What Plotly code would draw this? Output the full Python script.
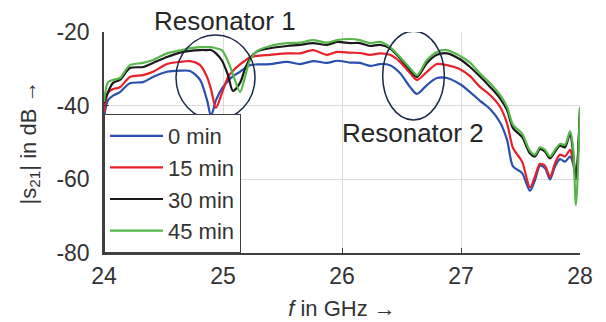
import plotly.graph_objects as go

freq_ghz = [24.000, 24.034, 24.076, 24.134, 24.218, 24.328, 24.412, 24.529, 24.639, 24.723,
            24.807, 24.866, 24.899, 24.941, 24.992, 25.042, 25.084, 25.143, 25.185, 25.227,
            25.286, 25.395, 25.538, 25.647, 25.756, 25.874, 25.958, 26.067, 26.151, 26.235,
            26.319, 26.403, 26.487, 26.571, 26.630, 26.714, 26.798, 26.882, 26.992, 27.076,
            27.160, 27.244, 27.328, 27.387, 27.437, 27.513, 27.580, 27.622, 27.664, 27.706,
            27.748, 27.790, 27.832, 27.874, 27.916, 27.941, 27.966, 28.000]

s21_0min = [-43.0, -38.5, -37.3, -36.3, -33.9, -33.6, -32.2, -30.8, -30.5, -30.6,
            -33.0, -38.5, -42.8, -38.5, -35.3, -33.3, -32.0, -30.8, -29.8, -29.0,
            -28.8, -28.7, -28.1, -28.7, -27.9, -28.4, -27.8, -28.3, -28.4, -29.2,
            -28.7, -29.0, -31.1, -34.9, -36.8, -34.4, -32.5, -32.5, -34.2, -36.3,
            -38.7, -40.9, -44.5, -49.3, -56.5, -58.3, -63.1, -60.2, -56.3, -57.0,
            -60.0, -56.5, -54.5, -55.2, -53.8, -55.6, -60.0, -41.0]

s21_15min = [-41.7, -36.5, -35.5, -35.0, -32.2, -31.7, -30.8, -28.7, -28.1, -27.9,
             -29.0, -32.2, -35.5, -40.6, -36.5, -32.2, -30.5, -28.8, -27.8, -26.8,
             -26.5, -26.2, -25.8, -25.8, -24.9, -26.2, -25.4, -25.6, -25.7, -26.2,
             -25.8, -26.2, -28.1, -31.1, -33.0, -30.8, -28.7, -29.0, -30.1, -32.0,
             -34.9, -37.1, -40.3, -44.8, -51.5, -55.2, -62.2, -59.2, -55.8, -56.3,
             -59.4, -55.6, -53.3, -53.8, -52.0, -54.7, -58.0, -41.0]

s21_30min = [-39.3, -36.3, -33.8, -33.0, -29.8, -29.5, -28.4, -26.8, -25.6, -25.1,
             -24.9, -24.9, -24.9, -25.8, -27.8, -31.7, -36.0, -33.8, -30.0, -27.2,
             -25.3, -24.4, -23.8, -23.5, -23.0, -23.5, -22.7, -23.0, -23.0, -23.8,
             -23.5, -24.4, -27.1, -30.3, -32.2, -28.4, -26.2, -25.8, -27.4, -29.5,
             -32.1, -34.9, -38.0, -41.2, -46.1, -48.5, -53.0, -53.8, -51.8, -52.5,
             -54.3, -52.5, -50.9, -51.3, -47.6, -52.5, -60.0, -42.0]

s21_45min = [-39.0, -33.6, -33.0, -32.5, -29.0, -28.4, -27.6, -25.8, -25.0, -24.4,
             -24.1, -24.1, -24.1, -24.4, -25.0, -28.0, -31.5, -36.3, -32.2, -27.6,
             -25.2, -23.8, -23.0, -22.9, -22.2, -22.9, -22.2, -21.9, -22.2, -23.0,
             -22.7, -24.1, -26.8, -29.8, -31.7, -27.6, -25.4, -24.9, -26.5, -28.3,
             -31.3, -33.9, -37.1, -40.3, -45.2, -47.6, -52.3, -53.3, -51.3, -52.0,
             -53.8, -52.0, -50.4, -50.6, -47.0, -51.1, -67.0, -40.3]

series_names = ["0 min", "15 min", "30 min", "45 min"]
series_values = [s21_0min, s21_15min, s21_30min, s21_45min]
series_colors = ["#2a50ad", "#e8202a", "#1a1a1a", "#55b848"]

x_ticks = [24, 25, 26, 27, 28]
x_tick_labels = ["24", "25", "26", "27", "28"]
y_ticks = [-80, -60, -40, -20]
y_tick_labels = ["-80", "-60", "-40", "-20"]

FONT = "Liberation Sans, Arial, sans-serif"
TXT = "#333333"

fig = go.Figure()
for name, vals, col in zip(series_names, series_values, series_colors):
    fig.add_trace(go.Scatter(
        x=freq_ghz, y=vals, name=name, mode="lines",
        line=dict(color=col, width=2.2, shape="spline", smoothing=0.8),
    ))

# resonator ellipses
ell_color = "#1b2a47"
fig.add_shape(type="circle", xref="x", yref="y", x0=24.605, x1=25.269, y0=-43.9, y1=-20.8,
              line=dict(color=ell_color, width=1.5), layer="above")
fig.add_shape(type="circle", xref="x", yref="y", x0=26.342, x1=26.860, y0=-43.9, y1=-19.8,
              line=dict(color=ell_color, width=1.5), layer="above")

fig.add_annotation(text="Resonator 1", x=25.017, y=1.05, xref="x", yref="paper",
                   xanchor="center", yanchor="middle",
                   showarrow=False, font=dict(family=FONT, size=26, color="#262626"))
fig.add_annotation(text="Resonator 2", x=26.6, y=-47.5, xref="x", yref="y",
                   xanchor="center", yanchor="middle",
                   showarrow=False, font=dict(family=FONT, size=26, color="#262626"))

axis_common = dict(
    showline=True, linecolor="#404040", linewidth=1.5,
    ticks="inside", ticklen=5, tickwidth=1.2, tickcolor="#404040",
    showgrid=True, gridcolor="#dcdcdc", gridwidth=1,
    zeroline=False, automargin=False,
    tickfont=dict(family=FONT, size=23, color=TXT),
)

fig.update_xaxes(range=[24, 28], tickvals=x_ticks, ticktext=x_tick_labels,
                 title=dict(text="<i>f</i> in GHz \u2192", font=dict(family=FONT, size=22, color=TXT), standoff=12),
                 ticklabelstandoff=2,
                 **axis_common)
fig.update_yaxes(range=[-80, -20], tickvals=y_ticks, ticktext=y_tick_labels,
                 title=dict(text="|s<sub>21</sub>| in dB \u2192", font=dict(family=FONT, size=22, color=TXT), standoff=14),
                 ticklabelstandoff=8,
                 **axis_common)

fig.update_layout(
    width=606, height=322,
    margin=dict(l=104, r=26, t=32, b=69, autoexpand=False),
    paper_bgcolor="white", plot_bgcolor="white",
    font=dict(family=FONT, color=TXT),
    legend=dict(x=0, y=0, xanchor="left", yanchor="bottom",
                bgcolor="white", bordercolor="#404040", borderwidth=1,
                font=dict(family=FONT, size=22, color=TXT),
                itemwidth=53, tracegroupgap=0),
    showlegend=True,
)

fig.write_html("out.html")
